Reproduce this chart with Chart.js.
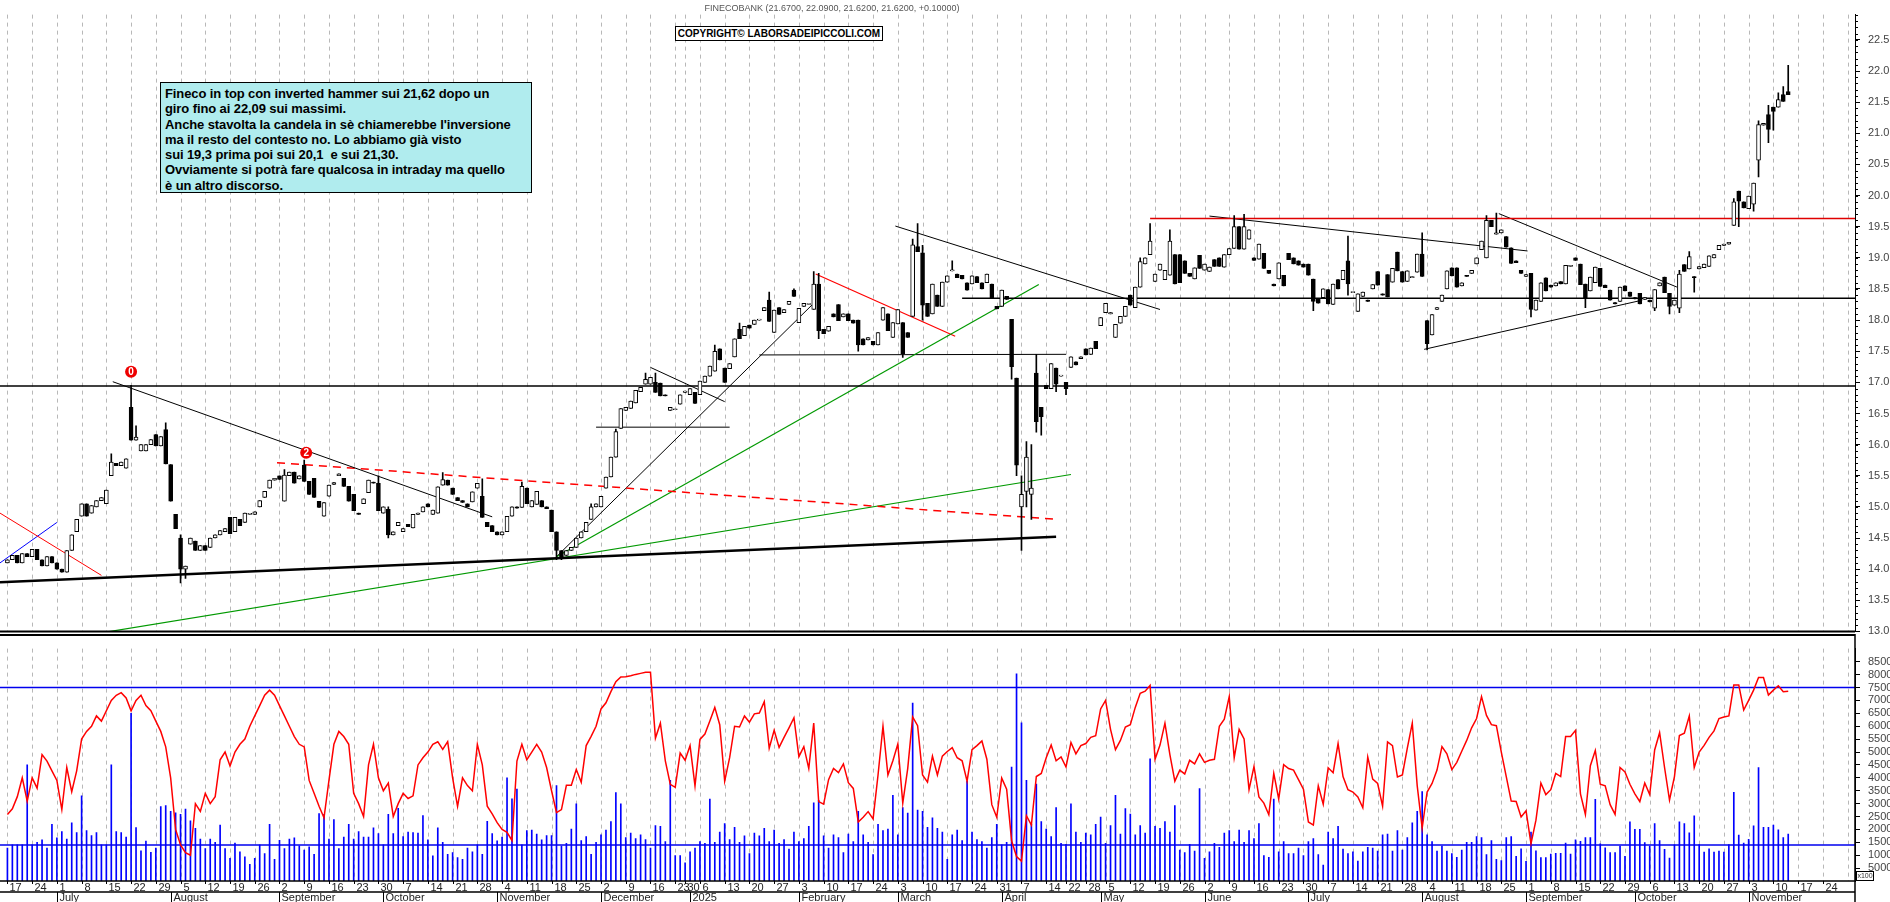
<!DOCTYPE html>
<html>
<head>
<meta charset="utf-8">
<script src="https://cdn.jsdelivr.net/npm/chart.js@4.4.1/dist/chart.umd.min.js"></script>
<style>
  body { margin: 0; background: #fff; width: 1890px; height: 902px; overflow: hidden; position: relative; font-family: "Liberation Sans", Arial, sans-serif; }
  canvas { position: absolute; left: 0; }
  #prezzo { top: 0; }
  #volumi { top: 634px; }
  #titolo { position: absolute; left: 0; width: 1664px; top: 3px; text-align: center; font-size: 9px; color: #555; }
  #copy { position: absolute; left: 675px; top: 26px; width: 206px; height: 13px; border: 1px solid #000; background: #fff; font-size: 10px; font-weight: bold; text-align: center; line-height: 13px; white-space: nowrap; letter-spacing: 0; }
  #nota { position: absolute; left: 160px; top: 82px; width: 362px; height: 103px; background: #b0ecee; border: 1px solid #000; padding: 3px 4px; font-size: 13px; font-weight: bold; line-height: 15.3px; letter-spacing: -0.1px; color: #000; white-space: nowrap; }
  #x100 { position: absolute; left: 1856px; top: 871px; width: 16px; height: 8px; border: 1px solid #000; font-size: 7px; line-height: 8px; text-align: center; color: #333; }
</style>
</head>
<body>
<canvas id="prezzo" width="1890" height="646"></canvas>
<canvas id="volumi" width="1890" height="268"></canvas>
<div id="titolo">FINECOBANK (21.6700, 22.0900, 21.6200, 21.6200, +0.10000)</div>
<div id="copy">COPYRIGHT© LABORSADEIPICCOLI.COM</div>
<div id="nota">Fineco in top con inverted hammer sui 21,62 dopo un<br>giro fino ai 22,09 sui massimi.<br>Anche stavolta la candela in sè chiamerebbe l'inversione<br>ma il resto del contesto no. Lo abbiamo già visto<br>sui 19,3 prima poi sui 20,1 &nbsp;e sui 21,30.<br>Ovviamente si potrà fare qualcosa in intraday ma quello<br>è un altro discorso.</div>
<div id="x100">x100</div>
<script>
/*******************************************************************************/
// Dati: una candela per seduta dal 17/06/2024 al 13/11/2025

const aperture = [
14.1,14.15,14.22,14.1,14.25,14.2,14.32,14.15,14.05,14.2,
14.1,14.0,13.95,14.3,14.6,14.85,15.05,14.9,15.0,15.1,
15.05,15.5,15.7,15.66,15.62,16.6,16.07,15.9,15.9,16.0,
16.16,15.98,16.24,15.68,14.88,14.5,14.0,14.4,14.45,14.3,
14.38,14.35,14.5,14.55,14.6,14.83,14.6,14.8,14.75,14.88,
14.88,15.0,15.15,15.3,15.43,15.5,15.09,15.5,15.56,15.45,
15.67,15.41,15.46,15.09,14.85,15.17,15.36,15.5,15.46,15.33,
15.2,14.9,15.05,15.23,15.4,15.38,14.9,14.96,14.55,14.7,
14.6,14.72,14.66,14.88,14.92,15.05,14.88,14.9,15.35,15.43,
15.3,15.15,15.1,15.05,15.08,15.3,15.17,14.75,14.7,14.6,
14.55,14.6,14.85,15.0,14.99,15.3,15.0,15.04,15.1,15.0,
14.95,14.6,14.3,14.22,14.3,14.35,14.5,14.6,14.8,15.0,
15.0,15.3,15.48,15.8,16.26,16.55,16.58,16.67,16.85,16.97,
16.97,17.0,16.99,16.8,16.55,16.56,16.65,16.84,16.8,16.84,
16.8,17.0,17.1,17.18,17.54,17.23,17.22,17.41,17.85,17.75,
17.92,17.93,18.0,18.15,18.32,17.8,18.2,18.12,18.25,18.48,
17.96,18.22,18.25,18.17,18.58,17.85,17.82,18.1,18.25,18.05,
18.1,18.0,18.0,17.7,17.68,17.66,17.6,18.0,18.1,17.72,
17.94,17.96,17.8,18.06,19.18,19.08,18.27,18.1,18.4,18.22,
18.61,18.79,18.74,18.72,18.6,18.58,18.7,18.6,18.6,18.58,
18.22,18.22,18.38,18.01,17.07,15.0,15.25,15.2,17.15,16.6,
16.95,16.9,17.23,17.1,17.0,17.24,17.33,17.38,17.54,17.45,
17.66,17.91,18.12,18.1,17.72,17.95,18.06,18.4,18.2,18.53,
18.9,19.05,18.62,18.8,18.65,18.72,19.05,19.05,18.95,18.75,
18.66,19.04,18.8,18.78,18.97,19.0,18.85,19.05,19.15,19.5,
19.14,19.3,19.0,18.98,19.07,18.8,18.58,18.66,18.72,19.07,
19.0,18.95,18.9,18.9,18.66,18.35,18.36,18.49,18.25,18.65,
18.65,18.95,18.44,18.14,18.38,18.32,18.5,18.78,18.42,18.73,
18.61,19.09,18.78,18.62,18.68,18.77,19.06,17.99,17.76,18.17,
18.3,18.5,18.84,18.84,18.55,18.72,18.75,18.9,19.13,19.0,
19.6,19.38,19.4,19.34,19.16,18.95,18.8,18.7,18.75,18.16,
18.3,18.68,18.56,18.55,18.62,18.58,18.86,19.0,18.9,18.58,
18.47,18.6,18.83,18.56,18.48,18.28,18.3,18.55,18.45,18.36,
18.43,18.33,18.32,18.19,18.55,18.69,18.43,18.24,18.19,18.89,
18.82,18.7,18.82,18.84,18.86,19.0,19.13,19.2,19.22,19.52,
20.07,19.9,19.79,19.86,20.57,21.13,21.3,21.42,21.42,21.62,21.67
];

const chiusure = [
14.15,14.22,14.1,14.25,14.2,14.32,14.15,14.05,14.2,14.1,
14.0,13.95,14.3,14.55,14.8,15.05,14.85,15.02,15.1,15.15,
15.27,15.72,15.66,15.72,15.77,16.07,16.12,16.0,16.0,16.08,
15.98,16.13,15.69,15.09,14.65,14.0,14.05,14.5,14.3,14.38,
14.3,14.5,14.55,14.62,14.65,14.57,14.83,14.7,14.9,14.88,
14.92,15.1,15.25,15.43,15.46,15.44,15.51,15.56,15.38,15.5,
15.41,15.2,15.15,14.99,15.07,15.35,15.39,15.53,15.33,15.09,
14.94,14.88,15.13,15.43,15.38,14.94,15.0,14.55,14.6,14.75,
14.65,14.68,14.88,14.9,15.0,15.0,14.95,15.32,15.44,15.35,
15.2,15.1,15.07,15.0,15.24,15.38,14.83,14.68,14.6,14.55,
14.6,14.85,15.0,14.98,15.33,15.05,15.1,15.25,15.0,14.97,
14.6,14.3,14.2,14.3,14.35,14.5,14.6,14.75,15.0,15.05,
15.17,15.48,15.8,16.21,16.58,16.6,16.7,16.87,16.92,17.05,
17.08,16.84,16.78,16.78,16.6,16.56,16.8,16.86,16.9,16.66,
17.02,17.1,17.26,17.5,17.36,17.0,17.3,17.7,17.7,17.9,
17.87,18.0,18.0,18.2,17.98,18.16,18.09,18.17,18.3,18.38,
18.19,18.27,18.25,18.58,17.83,17.78,17.9,18.05,17.99,18.1,
17.99,17.95,17.6,17.6,17.72,17.6,17.8,18.2,17.83,17.96,
18.17,17.46,17.72,19.21,19.1,18.24,18.06,18.58,18.22,18.61,
18.71,18.8,18.68,18.66,18.48,18.71,18.6,18.5,18.74,18.35,
18.18,18.48,18.33,17.25,15.67,15.2,15.8,15.3,16.37,16.45,
16.9,17.3,16.97,17.1,16.9,17.41,17.28,17.41,17.44,17.55,
17.54,18.04,18.27,18.12,17.93,18.06,18.22,18.24,18.53,18.94,
19.0,19.27,18.74,18.9,18.8,19.27,18.58,18.6,18.75,18.7,
18.84,18.83,18.9,18.85,18.86,18.86,19.05,19.15,19.5,19.14,
19.5,19.45,18.96,19.22,18.83,18.75,18.55,18.92,18.55,18.97,
18.9,18.88,18.85,18.72,18.3,18.27,18.5,18.26,18.58,18.5,
18.8,18.58,18.44,18.42,18.45,18.3,18.57,18.56,18.4,18.37,
18.83,18.79,18.61,18.79,18.7,19.06,18.7,17.62,18.09,18.2,
18.4,18.79,18.71,18.53,18.6,18.7,18.8,19.0,19.27,19.6,
19.5,19.4,19.45,19.17,18.91,18.92,18.75,18.73,18.17,18.32,
18.6,18.47,18.53,18.6,18.58,18.88,18.88,18.96,18.57,18.35,
18.69,18.85,18.54,18.52,18.32,18.26,18.53,18.47,18.38,18.34,
18.26,18.36,18.29,18.49,18.6,18.44,18.22,18.32,18.74,18.78,
19.02,18.68,18.86,18.9,19.03,19.05,19.2,19.22,19.25,19.9,
19.91,19.8,19.99,20.2,21.14,21.16,21.06,21.35,21.54,21.51,21.62
];

// ombre lunghe [seduta, prezzo]
const massimi = [[25,16.95],[21,15.85],[26,16.3],[32,16.35],[35,14.55],[56,15.6],[60,15.75],[75,15.5],[77,15.0],
  [88,15.55],[96,15.45],[104,15.4],[118,15.05],[123,16.25],[129,17.15],[131,17.15],[143,17.6],[148,17.95],
  [154,18.45],[159,18.5],[163,18.78],[164,18.75],[183,19.3],[184,19.55],[185,19.2],[191,18.95],[205,15.5],
  [206,16.05],[207,16.0],[208,17.45],[229,19.0],[231,19.55],[235,19.45],[248,19.68],[250,19.7],[271,19.35],
  [286,19.4],[299,19.68],[301,19.72],[338,18.8],[340,19.1],[349,19.95],[354,21.2],[356,21.45],[358,21.65],
  [359,21.75],[360,22.09]];
const minimi = [[35,13.78],[36,13.85],[77,14.5],[111,14.15],[112,14.15],[164,17.7],[172,17.5],[181,17.4],
  [185,18.0],[203,17.05],[204,15.5],[205,14.3],[206,15.0],[207,14.8],[208,16.2],[209,16.15],[212,16.85],
  [214,16.8],[264,18.15],[271,18.4],[287,17.52],[308,18.05],[319,18.2],[333,18.15],[336,18.1],[338,18.12],
  [341,18.45],[350,19.5],[353,19.75],[354,20.3],[356,20.85],[357,21.05]];

// volumi (x1000 sulla scala di destra)
const volumi = [
12.8,14,14,14,45,14,15,16,12.8,22,
16.7,19.2,16.3,22.6,18.8,33,19.5,17.6,18.8,14,
14,45,19.2,18.8,17,65,20.7,11.7,15.5,11.1,
12.8,28.9,29.2,27,26.4,25.8,27.9,23.3,20.4,16.3,
12.6,16.3,15,21.7,12.6,8.8,14.7,11.3,9.4,6.5,
8.8,14,10.6,22,8.4,15.8,12.6,16.3,16.7,13.6,
12,13.2,10.3,26.1,25.8,16.3,23.8,12.6,17,22,
16.3,19.2,17,17,20.6,18.4,14,25.8,18.4,28.2,
17.2,19,18.8,18.6,25.4,16,9.8,20.6,15,10.3,
11,9.1,8.4,12.8,11.3,14,10.3,23.1,18.4,15.6,
17,40,31.9,35.6,14,19.5,19.7,18.2,16,17.6,
17.6,37,13.5,14.6,20.1,29.9,15.7,17.2,10.3,15,
17.9,19.7,23,34.3,29.9,16.8,18.6,16.4,17.9,16.1,
12.8,21.5,21.2,15.3,39,9.9,9.9,7,11.3,12.8,
15.3,14.6,31.8,15,19,22.3,16.1,20.8,15,17.5,
10.6,18.6,17.5,20.4,15.3,19.7,14.6,16.1,12.4,19,
15.3,16.4,21.2,30.3,31.3,17.5,12.8,17.9,16.8,11,
18.2,15.3,27,17.9,15,10.2,22,19.5,20.1,33.2,
17.9,28.5,26.3,69,27.5,27,20.8,24.5,20.4,19,
8.4,17.9,19.7,15.7,38.7,19,16.1,15.3,12.8,16.8,
22,14,15,44.2,80.3,61.3,39,22,37.6,23,
20.1,17.2,28.5,14.6,14.2,29.9,19,15,18.6,17.9,
22,24.8,14.6,21.5,33.2,18.2,28.1,25.9,17.9,21.5,
18.6,47.4,21.2,20.4,23,19,29.2,12,11,14.2,
11.6,35.8,8.8,11.3,14.6,13.1,18.6,19.5,15.3,19.7,
15,19.5,16.4,22.3,9.9,9.2,31.8,11.3,15.3,10.6,
10.6,12.8,9.9,15.3,16.4,10.2,6.2,19,16.4,21.2,
12.4,10.6,11.3,7.7,11.3,13.1,12.8,11.6,17.9,18.2,
11.6,19.5,12,16.8,22.6,27,34.7,17.9,15.3,11.6,
13.5,11.6,10.6,9.2,12,15,15,17.2,16.8,10.2,
15.7,8.4,7.9,16.8,17.2,9.6,12.5,7.6,19,11.7,
9.1,9.1,10.4,10.7,10.7,14.7,10.4,16,15.4,16.8,
16.8,31.7,14.4,12.9,11,11,13.5,9.6,22.9,20,
20,14.9,13.5,22.3,15.7,12.3,8.9,14,22.9,22.3,
18.7,25.3,14.1,11.2,12.5,11.2,11.6,11.2,14.1,34.4,
17.8,14.7,16.2,21.4,44,20.8,20.8,21.7,19.8,16.8,18.2
];

// oscillatore rosso (stessa scala)
const oscillatore = [
25.8,28,32.7,40,31,40,36,49,46.5,42.7,
39,27.7,44,34.6,42.7,55,58,60,64,62,
66,70,72,73,71,66,70,72,68,66,
62,58,52,40,20,14,11,10,30,27,
34,30,32.7,47,50,44.6,50,53,55,60,
64,68,72,74,72,68,64,60,56,53,
52,39,34,29,24.5,39,53,58,56,53,
34,30,25,45,53,40,35,38,25,30,
34,32,33,45,47.8,50,53,54,51,54,
40,28.9,40,37,35,53,45,29,26,22.6,
20,18.9,15.7,46.5,53,47,50,53,50,44,
35,26.5,27.7,37.1,37.1,43.2,38.3,52.5,56.1,60,
66.7,69.1,73.4,77.3,79.1,79.2,79.6,80.1,80.5,80.9,
80.9,55.4,61.2,46.6,37.5,36.3,49.6,46.8,52.5,36.9,
54.9,57,62,67.3,60.6,38.7,47.8,60,59.7,64,
61.6,64.8,65.1,69.5,51.5,58.4,51.8,55.7,59.4,63.3,
48.2,52.1,43.6,61.2,30.8,29.8,39.3,43.6,42,45.4,
38.1,35.9,22.9,24.7,26.9,24.1,41.1,60,41.1,46.6,
53.1,30.2,43.6,63.6,60.2,41.1,38.3,48.4,41.1,48.4,
50.2,51.7,47.8,46.6,38.7,50.9,52.5,54.3,47.2,29.6,
24.7,39.9,35.6,15.6,9.5,7.7,25.3,21.7,40.5,41.7,
47.8,52.7,46.6,48.1,44.2,53.7,49.3,52.5,53.3,55.7,
56.3,66.7,70,58.8,50.9,54.5,59.7,60.6,67.3,72.8,
73.6,75.8,47.2,52.7,61.2,49,38.7,43,41.5,46.8,
45.4,49.3,46,46.8,47.2,60,62.7,71.5,47.8,58.8,
55.1,35.4,44.4,32.6,30.2,25.7,41.7,31.8,45.1,43.6,
43,39.3,35.6,22.9,21.7,36.9,29.8,43.9,42,53.3,
40.5,35.4,34.5,32.6,28.4,48.1,39.5,37.8,29,53.9,
52.5,40.3,41.1,51.5,61.2,36.9,20.5,34.5,37.8,43,
52.1,49.3,43.2,46,50.3,54.5,59.4,63,71.5,64.2,
60.6,60.2,50,40.5,31,30.8,24.8,27.2,14.4,23.6,
38,33.5,35.4,41.7,40.5,56,56,58.4,33.8,25.8,
44.7,50.6,37.5,36.9,29.6,25.8,44,42.3,37.5,33.8,
30.8,38,33.5,50.8,57.5,44,31.4,40.5,56.4,57.3,
64,44,50,52.6,55.7,58.2,63,63.6,64,76,
76,66.3,70,74,78.9,78.9,72.1,74,75.7,73.4,73.6
];

const livelliVolume = [75, 14];

// trendline disegnate sul grafico: [seduta1, prezzo1, seduta2, prezzo2, colore, spessore, tratteggio]
const trendline = [
  [-1.5, 16.94, 373.5, 16.94, '#000', 1.5, []],
  [193, 18.35, 373.5, 18.35, '#000', 1.5, []],
  [231, 19.63, 373.5, 19.63, '#e00000', 1.5, []],
  [-1.5, 13.79, 212, 14.52, '#000', 2.5, []],
  [21.3, 17.01, 98, 14.84, '#000', 1, []],
  [54.5, 15.71, 212, 14.8, '#ff0000', 1.5, [8, 6]],
  [15.4, 12.93, 215, 15.52, '#009900', 1.2, []],
  [111, 14.2, 208.5, 18.57, '#009900', 1.2, []],
  [111, 14.2, 163, 18.27, '#000', 1, []],
  [119, 16.28, 146, 16.28, '#000', 1, []],
  [130, 17.24, 145, 16.69, '#000', 1, []],
  [152, 17.44, 214, 17.45, '#000', 1, []],
  [163.4, 18.74, 191.6, 17.74, '#ff0000', 1.2, []],
  [179.5, 19.51, 233, 18.17, '#000', 1, []],
  [243, 19.67, 307.3, 19.11, '#000', 1, []],
  [301.5, 19.71, 337.5, 18.53, '#000', 1, []],
  [286.4, 17.53, 330.5, 18.32, '#000', 1, []],
  [-1.5, 14.9, 19, 13.9, '#ff0000', 1, []],
  [-1.5, 14.1, 10, 14.75, '#0000ff', 1, []]
];

const segnali = [[25, 17.17, '0'], [60.4, 15.87, '2']];

const festivi = ['2024-12-24','2024-12-25','2024-12-26','2024-12-31','2025-01-01','2025-04-18','2025-04-21','2025-05-01'];
const mesi = ['January','February','March','April','May','June','July','August','September','October','November','December'];

/*******************************************************************************/
// Calendario sedute (indice -1 = seduta prima del grafico)

const X_MIN = -1.5, X_MAX = 373.5;
let sedute = [];
let giorno = new Date('2024-06-14T12:00:00Z');
while (sedute.length < 376) {
    const wd = giorno.getUTCDay();
    const s = giorno.toISOString().slice(0, 10);
    if (wd > 0 && wd < 6 && !festivi.includes(s)) sedute.push(new Date(giorno));
    giorno.setUTCDate(giorno.getUTCDate() + 1);
}
let inizioSettimana = [];
let inizioMese = [];
for (let k = 1; k < sedute.length; k++) {
    const idx = k - 1;
    if (sedute[k].getUTCDay() < sedute[k - 1].getUTCDay()) inizioSettimana.push({ i: idx, d: sedute[k].getUTCDate() });
    if (sedute[k].getUTCMonth() !== sedute[k - 1].getUTCMonth()) {
        const m = sedute[k].getUTCMonth();
        inizioMese.push({ i: idx, t: m === 0 ? String(sedute[k].getUTCFullYear()) : mesi[m] });
    }
}

/*******************************************************************************/
// Plugin

const grigliaSettimane = {
    id: 'grigliaSettimane',
    beforeDatasetsDraw(chart) {
        const { ctx, chartArea: a, scales: { x } } = chart;
        ctx.save();
        ctx.strokeStyle = '#b8b8b8';
        ctx.lineWidth = 1;
        ctx.setLineDash([4, 4]);
        inizioSettimana.forEach((w) => {
            const px = Math.round(x.getPixelForValue(w.i)) + 0.5;
            if (px > a.right) return;
            ctx.beginPath();
            ctx.moveTo(px, a.top);
            ctx.lineTo(px, a.bottom);
            ctx.stroke();
        });
        ctx.restore();
    }
};

const segniPrezzo = {
    id: 'segniPrezzo',
    afterDraw(chart) {
        const { ctx, chartArea: a, scales: { x, y } } = chart;
        ctx.save();
        ctx.strokeStyle = '#000';
        ctx.lineWidth = 1;
        for (let p = 13.0; p < 22.95; p += 0.1) {
            const py = Math.round(y.getPixelForValue(p)) + 0.5;
            ctx.beginPath();
            ctx.moveTo(a.right, py);
            ctx.lineTo(a.right + 3, py);
            ctx.stroke();
        }
        ctx.lineWidth = 2;
        ctx.beginPath();
        ctx.moveTo(0, a.bottom);
        ctx.lineTo(a.right, a.bottom);
        ctx.stroke();
        segnali.forEach((s) => {
            const px = x.getPixelForValue(s[0]);
            const py = y.getPixelForValue(s[1]);
            ctx.fillStyle = '#ee0000';
            ctx.beginPath();
            ctx.arc(px, py, 6, 0, Math.PI * 2);
            ctx.fill();
            ctx.fillStyle = '#fff';
            ctx.font = 'bold 10px "Liberation Sans"';
            ctx.textAlign = 'center';
            ctx.textBaseline = 'middle';
            ctx.fillText(s[2], px, py + 0.5);
        });
        ctx.restore();
    }
};

const asseDate = {
    id: 'asseDate',
    afterDraw(chart) {
        const { ctx, chartArea: a, scales: { x } } = chart;
        const y0 = a.bottom, y1 = a.bottom + 11, y2 = a.bottom + 21;
        ctx.save();
        ctx.strokeStyle = '#000';
        ctx.lineWidth = 1.5;
        ctx.beginPath();
        ctx.moveTo(0, y0); ctx.lineTo(a.right, y0);
        ctx.moveTo(0, y1); ctx.lineTo(a.right, y1);
        ctx.moveTo(a.right, 0); ctx.lineTo(a.right, y2);
        ctx.stroke();
        ctx.lineWidth = 1;
        ctx.fillStyle = '#222';
        ctx.font = '11px "Liberation Sans"';
        ctx.textBaseline = 'alphabetic';
        inizioSettimana.forEach((w) => {
            const px = Math.round(x.getPixelForValue(w.i)) + 0.5;
            if (px > a.right - 8) return;
            ctx.beginPath(); ctx.moveTo(px, y0); ctx.lineTo(px, y0 + 3); ctx.stroke();
            ctx.fillText(String(w.d), px + 2, y0 + 10);
        });
        inizioMese.forEach((m) => {
            const px = Math.round(x.getPixelForValue(m.i)) + 0.5;
            if (px > a.right - 20) return;
            ctx.beginPath(); ctx.moveTo(px, y1); ctx.lineTo(px, y2); ctx.stroke();
            ctx.fillText(m.t, px + 2, y2 - 1);
        });
        ctx.lineWidth = 2;
        ctx.beginPath(); ctx.moveTo(0, 1); ctx.lineTo(a.right, 1); ctx.stroke();
        ctx.restore();
    }
};

/*******************************************************************************/
// Grafico prezzi

function valoreOmbra(lista, i) {
    const f = lista.find((e) => e[0] === i);
    return f ? f[1] : null;
}

let corpi = [], ombre = [], coloriCorpi = [];
aperture.forEach((o, i) => {
    const c = chiusure[i];
    let hi = Math.max(o, c), lo = Math.min(o, c);
    const h = valoreOmbra(massimi, i), l = valoreOmbra(minimi, i);
    if (h !== null) hi = h;
    if (l !== null) lo = l;
    corpi.push({ x: i, y: [o, c] });
    ombre.push({ x: i, y: [lo, hi] });
    coloriCorpi.push(c >= o ? '#ffffff' : '#000000');
});

let datasetPrezzo = [
    { type: 'bar', data: corpi, backgroundColor: coloriCorpi, borderColor: '#000', borderWidth: 1,
      borderSkipped: false, barThickness: 4, minBarLength: 1, grouped: false, order: 1 },
    { type: 'bar', data: ombre, backgroundColor: '#000', borderWidth: 0,
      barThickness: 1, grouped: false, order: 2 }
];
trendline.forEach((t) => {
    datasetPrezzo.push({
        type: 'line', data: [{ x: t[0], y: t[1] }, { x: t[2], y: t[3] }],
        borderColor: t[4], borderWidth: t[5], borderDash: t[6], pointRadius: 0, order: 3
    });
});

const asseDestro = (min, max, step, fmt) => ({
    position: 'right', min: min, max: max,
    afterFit: (s) => { s.width = 35; },
    border: { display: true, color: '#000', width: 1 },
    grid: { drawOnChartArea: false, color: '#000', tickLength: 5 },
    ticks: { stepSize: step, autoSkip: false, padding: 8, color: '#444',
             font: { family: 'Liberation Sans', size: 11 }, callback: fmt }
});

new Chart(document.getElementById('prezzo'), {
    type: 'bar',
    data: { datasets: datasetPrezzo },
    options: {
        responsive: false, animation: false, devicePixelRatio: 1,
        layout: { padding: { left: 0, right: 0, top: 0, bottom: 12 } },
        plugins: { legend: { display: false }, tooltip: { enabled: false } },
        scales: {
            x: { type: 'linear', min: X_MIN, max: X_MAX, offset: false, display: false },
            y: asseDestro(13.0, 22.906, 0.5, (v) => {
                const r = Math.round(v * 2) / 2;
                return Math.abs(r - v) < 0.001 ? r.toFixed(1) : null;
            })
        }
    },
    plugins: [grigliaSettimane, segniPrezzo]
});

/*******************************************************************************/
// Grafico volumi

let datasetVolumi = [
    { type: 'bar', data: volumi.map((v, i) => ({ x: i, y: v })), backgroundColor: '#0000ff',
      barThickness: 1, order: 3 },
    { type: 'line', data: oscillatore.map((v, i) => ({ x: i, y: v })), borderColor: '#ff0000',
      borderWidth: 1.5, pointRadius: 0, tension: 0, order: 1 }
];
livelliVolume.forEach((l) => {
    datasetVolumi.push({ type: 'line', data: [{ x: X_MIN, y: l }, { x: X_MAX, y: l }],
        borderColor: '#0000ee', borderWidth: 1.5, pointRadius: 0, order: 2 });
});

new Chart(document.getElementById('volumi'), {
    type: 'bar',
    data: { datasets: datasetVolumi },
    options: {
        responsive: false, animation: false, devicePixelRatio: 1,
        layout: { padding: { left: 0, right: 0, top: 0, bottom: 21 } },
        plugins: { legend: { display: false }, tooltip: { enabled: false } },
        scales: {
            x: { type: 'linear', min: X_MIN, max: X_MAX, offset: false, display: false },
            y: asseDestro(0, 90.1, 5, (v) => (v > 0 && v < 86 ? String(Math.round(v * 1000)) : null))
        }
    },
    plugins: [grigliaSettimane, asseDate]
});
</script>
</body>
</html>
